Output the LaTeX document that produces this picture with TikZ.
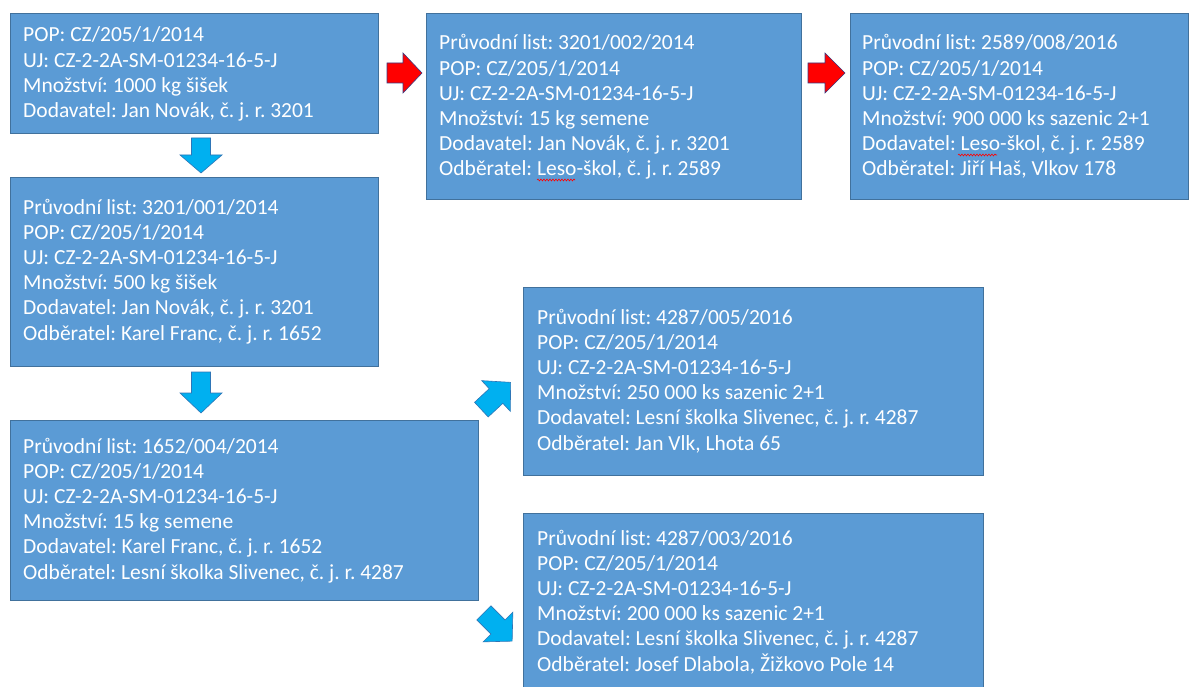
\documentclass[tikz,border=0pt]{standalone}
\usepackage{fontspec}
\setmainfont{Carlito}
\usetikzlibrary{decorations.pathmorphing}
\definecolor{boxfill}{HTML}{5B9BD5}
\definecolor{boxline}{HTML}{41719C}
\definecolor{arrblue}{HTML}{00B0F0}
\definecolor{arrblueline}{HTML}{2E75B6}
\definecolor{arrred}{HTML}{FF0000}
\definecolor{arrredline}{HTML}{3A3A80}
\newcommand{\boxtext}[1]{\parbox[t]{500pt}{\fontsize{21.5}{25.2}\selectfont\frenchspacing\raggedright #1}}
% block arrow: #1 style, #2 centre, #3 angle, #4 length, #5 shaft half width, #6 head half width, #7 head length
\newcommand{\blockarrow}[7]{%
  \draw[#1, shift={#2}, rotate=#3]
    (-#4/2,-#5) -- (#4/2-#7,-#5) -- (#4/2-#7,-#6) -- (#4/2,0)
    -- (#4/2-#7,#6) -- (#4/2-#7,#5) -- (-#4/2,#5) -- cycle;}
\begin{document}
\begin{tikzpicture}[x=1pt,y=-1pt,
  infobox/.style={draw=boxline, fill=boxfill, line width=0.8pt, inner sep=0pt, anchor=north west},
  infotext/.style={text=white, inner sep=0pt, anchor=base west},
  redarrow/.style={fill=arrred, draw=arrredline, line width=0.6pt, line join=miter},
  bluearrow/.style={fill=arrblue, draw=arrblueline, line width=0.6pt, line join=miter},
  spell/.style={draw=red, line width=0.6pt, decorate, decoration={snake, amplitude=0.9pt, segment length=3pt}}]
\clip (0,0) rectangle (1201,687);
\fill[white] (0,0) rectangle (1201,687);
% boxes
\node[infobox, minimum width=368pt, minimum height=120pt] (A) at (10,13) {};
\node[infobox, minimum width=368pt, minimum height=189pt] (B) at (10,177) {};
\node[infobox, minimum width=468pt, minimum height=180pt] (C) at (10,420) {};
\node[infobox, minimum width=375pt, minimum height=186pt] (D) at (426,13) {};
\node[infobox, minimum width=338pt, minimum height=186pt] (E) at (850,13) {};
\node[infobox, minimum width=460pt, minimum height=188pt] (F) at (523,287) {};
\node[infobox, minimum width=460pt, minimum height=190pt] (G) at (523,513) {};
% texts
\node[infotext] (tA) at (23,42) {\boxtext{POP: CZ/205/1/2014\\UJ: CZ-2-2A-SM-01234-16-5-J\\Množství: 1000 kg šišek\\Dodavatel: Jan Novák, č. j. r. 3201}};
\node[infotext] (tB) at (23,214) {\boxtext{Průvodní list: 3201/001/2014\\POP: CZ/205/1/2014\\UJ: CZ-2-2A-SM-01234-16-5-J\\Množství: 500 kg šišek\\Dodavatel: Jan Novák, č. j. r. 3201\\Odběratel: Karel Franc, č. j. r. 1652}};
\node[infotext] (tC) at (23,453) {\boxtext{Průvodní list: 1652/004/2014\\POP: CZ/205/1/2014\\UJ: CZ-2-2A-SM-01234-16-5-J\\Množství: 15 kg semene\\Dodavatel: Karel Franc, č. j. r. 1652\\Odběratel: Lesní školka Slivenec, č. j. r. 4287}};
\node[infotext] (tD) at (439,50) {\boxtext{Průvodní list: 3201/002/2014\\POP: CZ/205/1/2014\\UJ: CZ-2-2A-SM-01234-16-5-J\\Množství: 15 kg semene\\Dodavatel: Jan Novák, č. j. r. 3201\\Odběratel: Leso-škol, č. j. r. 2589}};
\node[infotext] (tE) at (862,50) {\boxtext{Průvodní list: 2589/008/2016\\POP: CZ/205/1/2014\\UJ: CZ-2-2A-SM-01234-16-5-J\\Množství: 900 000 ks sazenic 2+1\\Dodavatel: Leso-škol, č. j. r. 2589\\Odběratel: Jiří Haš, Vlkov 178}};
\node[infotext] (tF) at (537,324) {\boxtext{Průvodní list: 4287/005/2016\\POP: CZ/205/1/2014\\UJ: CZ-2-2A-SM-01234-16-5-J\\Množství: 250 000 ks sazenic 2+1\\Dodavatel: Lesní školka Slivenec, č. j. r. 4287\\Odběratel: Jan Vlk, Lhota 65}};
\node[infotext] (tG) at (537,545) {\boxtext{Průvodní list: 4287/003/2016\\POP: CZ/205/1/2014\\UJ: CZ-2-2A-SM-01234-16-5-J\\Množství: 200 000 ks sazenic 2+1\\Dodavatel: Lesní školka Slivenec, č. j. r. 4287\\Odběratel: Josef Dlabola, Žižkovo Pole 14}};
% spell-check marks under "Leso"
\draw[spell] (537,180) -- (575,180);
\draw[spell] (958,155) -- (997,155);
% block arrows
\blockarrow{redarrow}{(404.5,73)}{0}{35}{10}{20}{19}
\blockarrow{redarrow}{(826.5,73)}{0}{37}{10}{20}{20}
\blockarrow{bluearrow}{(201,155.5)}{-90}{35}{9.5}{21}{18}
\blockarrow{bluearrow}{(201,392.5)}{-90}{41}{9.5}{21}{20}
\blockarrow{bluearrow}{(496,396)}{43}{40}{10}{21}{20}
\blockarrow{bluearrow}{(498,627)}{-45}{40}{10}{21}{20}
\end{tikzpicture}
\end{document}
